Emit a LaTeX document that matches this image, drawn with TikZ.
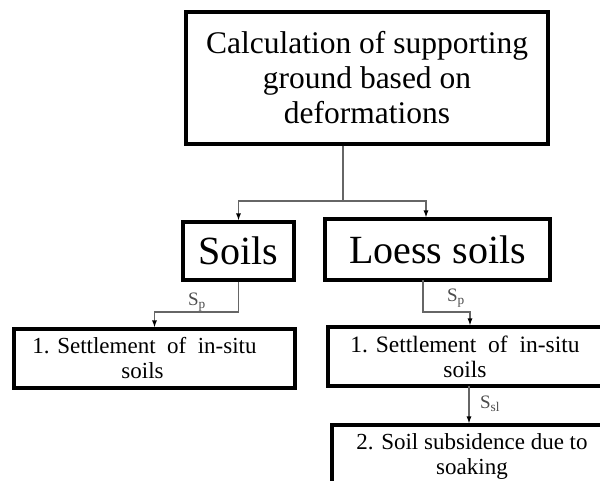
\documentclass[tikz,border=0pt]{standalone}
\usepackage{fontspec}
\setmainfont{Liberation Serif}
\usetikzlibrary{arrows.meta}
\begin{document}
\begin{tikzpicture}[x=1pt,y=-1pt,
  box/.style={draw=black,line width=3.1pt,fill=white,inner sep=0pt,align=center},
  link/.style={draw=black!60,line width=1.2pt},
  arr/.style={link,-{Latex[length=7pt,width=5pt,black]}},
  lbl/.style={text=black!70,font=\fontsize{19}{19}\selectfont,inner sep=0pt}]
\useasboundingbox (0,0) rectangle (600,480);
\clip (0,0) rectangle (600,480);
\node[box,minimum width=362pt,minimum height=132pt,font=\fontsize{31.5}{35}\selectfont] (top) at (367,78) {Calculation of supporting\\ground based on\\deformations};
\node[box,minimum width=111pt,minimum height=58pt,font=\fontsize{40}{44}\selectfont] (soils) at (238.5,251) {Soils};
\node[box,minimum width=225pt,minimum height=61pt,font=\fontsize{40}{44}\selectfont] (loess) at (437.5,249.5) {Loess soils};
\node[box,minimum width=281pt,minimum height=59pt,font=\fontsize{23}{25}\selectfont] (setl) at (154.5,358.5) {\hspace*{-20pt}1. Settlement\ \ of\ \ in-situ\\\hspace*{-24pt}soils};
\node[box,minimum width=274pt,minimum height=59pt,font=\fontsize{23.5}{25}\selectfont] (setr) at (465,356.5) {1. Settlement\ \ of\ \ in-situ\\soils};
\node[box,minimum width=280pt,minimum height=62pt,font=\fontsize{23}{25}\selectfont] (sub) at (472,456) {2. Soil subsidence due to\\soaking};
\coordinate (j) at (343,201);
\coordinate (jl) at (238.5,201);
\coordinate (jr) at (426,201);
\draw[link] (j |- top.south) -- (j);
\draw[arr] (j) -- (jl) -- (soils.north);
\draw[arr] (j) -- (jr) -- (jr |- loess.north);
\coordinate (a1) at (238.5,312);
\coordinate (a2) at (154.5,312);
\draw[arr] (soils.south) -- (a1) -- (a2) -- (setl.north);
\coordinate (b0) at (423,280);
\coordinate (b1) at (423,312);
\coordinate (b2) at (470,312);
\draw[arr] (b0) -- (b1) -- (b2) -- (b2 |- setr.north);
\coordinate (c0) at (469,386);
\draw[arr] (c0) -- (c0 |- sub.north);
\node[lbl] (l1) at (197,302) {S\textsubscript{p}};
\node[lbl] (l2) at (456,298) {S\textsubscript{p}};
\node[lbl] (l3) at (490,404) {S\textsubscript{sl}};
\end{tikzpicture}
\end{document}
